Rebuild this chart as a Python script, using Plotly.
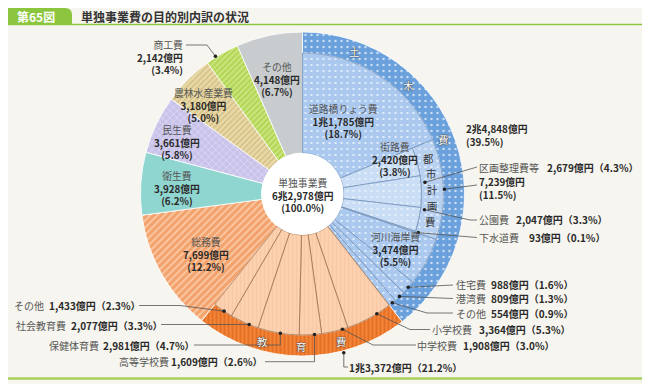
import math
import plotly.graph_objects as go

# ---------------- data ----------------
top_names = ["土木費", "教育費", "総務費", "衛生費", "民生費", "農林水産業費", "商工費", "その他"]
top_values = [24848, 13372, 7699, 3928, 3661, 3180, 2142, 4148]
top_amounts = ["2兆4,848億円", "1兆3,372億円", "7,699億円", "3,928億円", "3,661億円", "3,180億円", "2,142億円", "4,148億円"]
top_pcts = ["39.5%", "21.2%", "12.2%", "6.2%", "5.8%", "5.0%", "3.4%", "6.7%"]

doboku_names = ["道路橋りょう費", "都市計画費", "河川海岸費", "住宅費", "港湾費", "その他"]
doboku_values = [11785, 7239, 3474, 988, 809, 554]
doboku_amounts = ["1兆1,785億円", "7,239億円", "3,474億円", "988億円", "809億円", "554億円"]
doboku_pcts = ["18.7%", "11.5%", "5.5%", "1.6%", "1.3%", "0.9%"]

toshi_names = ["街路費", "区画整理費等", "公園費", "下水道費"]
toshi_values = [2420, 2679, 2047, 93]
toshi_amounts = ["2,420億円", "2,679億円", "2,047億円", "93億円"]
toshi_pcts = ["3.8%", "4.3%", "3.3%", "0.1%"]

kyoiku_names = ["小学校費", "中学校費", "高等学校費", "保健体育費", "社会教育費", "その他"]
kyoiku_values = [3364, 1908, 1609, 2981, 2077, 1433]
kyoiku_amounts = ["3,364億円", "1,908億円", "1,609億円", "2,981億円", "2,077億円", "1,433億円"]
kyoiku_pcts = ["5.3%", "3.0%", "2.6%", "4.7%", "3.3%", "2.3%"]

total_label = ["単独事業費", "6兆2,978億円", "(100.0%)"]
title_no = "第65図"
title_text = "単独事業費の目的別内訳の状況"

# ---------------- geometry ----------------
# the page is shown with the browser's default 8px body margin, so the
# figure is made 8px smaller and the overlay axes are offset by the same amount
OFF = 8
W, H = 650, 384
FW, FH = W - OFF, H - OFF
CX, CY = 302.5, 194.0           # screen position of the chart centre
RMAX = 168.0
R_OUT, R_RING, R_BAND, R_HOLE = 162.0, 141.0, 119.0, 41.0
FONT = "Noto Sans CJK JP, Noto Sans, sans-serif"
BG = "#f7f5ef"

TOTAL = sum(top_values)
DEG = 360.0 / TOTAL


def spans(values, start):
    out, a = [], start
    for v in values:
        w = v * DEG
        out.append((a, w))
        a += w
    return out


top_sp = spans(top_values, 0.0)
dob_sp = spans(doboku_values, top_sp[0][0])
toshi_sp = spans(toshi_values, dob_sp[1][0])
kyo_sp = spans(kyoiku_values, top_sp[1][0])


def px(angle, r):
    a = math.radians(angle)
    return CX + r * math.sin(a), CY - r * math.cos(a)


def anchor(sp, frac):
    return sp[0] + frac * sp[1]


fig = go.Figure()


def ring(sps, r0, r1, colors, line_color, line_w, patterns):
    for (s, w), c, p in zip(sps, colors, patterns):
        m = dict(color=c, line=dict(color=line_color, width=line_w))
        if p:
            pp = dict(p)
            pp.setdefault("bgcolor", c)
            pp["fillmode"] = "replace"
            m["pattern"] = pp
        fig.add_trace(go.Barpolar(theta=[s + w / 2], width=[w], base=[r0], r=[r1 - r0],
                                  marker=m, hoverinfo="skip", showlegend=False))


BLUE_P = dict(shape=".", fgcolor="#eef5fd", size=6, solidity=0.1)
gen_colors = ["#f4a26c", "#8fd5d0", "#c9c3ea", "#e9d9a7", "#c8e47a", "#c8ccce"]
gen_patterns = [dict(shape="/", fgcolor="#f9caa6", size=5, solidity=0.35),
                None,
                dict(shape="x", fgcolor="#dcd8f4", size=5, solidity=0.3),
                dict(shape="/", fgcolor="#cfbb80", size=4, solidity=0.3),
                dict(shape="/", fgcolor="#abd049", size=4, solidity=0.35),
                None]
ring(top_sp[2:], R_HOLE, R_OUT, gen_colors, "#ffffff", 0.8, gen_patterns)

ring([top_sp[0]], R_RING, R_OUT, ["#6aa0db"], "#ffffff", 0.8,
     [dict(shape=".", fgcolor="#cfe1f6", size=6, solidity=0.12)])
ring([top_sp[1]], R_RING, R_OUT, ["#f2873a"], "#ffffff", 0.8,
     [dict(shape="|", fgcolor="#e0651b", size=4, solidity=0.35)])

dob_full = [i for i in range(len(doboku_values)) if i != 1]
ring([dob_sp[i] for i in dob_full], R_HOLE, R_RING,
     ["#abc9ef"] * len(dob_full), "#6d8db6", 0.7, [BLUE_P] * len(dob_full))
ring([dob_sp[1]], R_BAND, R_RING, ["#b9d1f1"], "#6d8db6", 0.7, [BLUE_P])
ring(toshi_sp, R_HOLE, R_BAND, ["#c9ddf5"] * len(toshi_sp), "#6d8db6", 0.7, [BLUE_P] * len(toshi_sp))
ring(kyo_sp, R_HOLE, R_RING, ["#fcd4b3"] * len(kyo_sp), "#9a6a48", 0.7,
     [dict(shape="|", fgcolor="#f8c29b", size=4, solidity=0.3)] * len(kyo_sp))

shapes = []
shapes.append(dict(type="rect", xref="x", yref="y", x0=0, x1=W, y0=0, y1=H,
                   fillcolor=BG, line=dict(width=0), layer="below"))
shapes.append(dict(type="path", xref="x", yref="y", path="M0,8 H65 Q72,8 72,15 V24.5 H0 Z",
                   fillcolor="#8cc63f", line=dict(width=0)))
shapes.append(dict(type="line", xref="x", yref="y", x0=0, x1=W, y0=24.5, y1=24.5,
                   line=dict(color="#8cc63f", width=1.5)))
shapes.append(dict(type="line", xref="x", yref="y", x0=0, x1=W, y0=378.5, y1=378.5,
                   line=dict(color="#a6d05a", width=2.5)))
shapes.append(dict(type="circle", xref="x", yref="y", x0=CX - R_HOLE, x1=CX + R_HOLE,
                   y0=CY - R_HOLE, y1=CY + R_HOLE, fillcolor="#ffffff", line=dict(width=0)))

leaders = [
    (anchor(top_sp[6], 0.3), R_OUT + 1, [(207, 45), (186, 45)]),
    (anchor(toshi_sp[1], 0.22), R_BAND + 4, [(477, 167)]),
    (anchor(dob_sp[1], 0.5), R_RING + 1, [(477, 185)]),
    (anchor(toshi_sp[2], 0.07), R_BAND + 4, [(470, 220), (477, 220)]),
    (anchor(toshi_sp[3], 0.5), R_BAND + 3, [(477, 237.5)]),
    (anchor(dob_sp[3], 0.5), R_RING, [(453, 285)]),
    (anchor(dob_sp[4], 0.5), R_RING, [(453, 298.5)]),
    (anchor(dob_sp[5], 0.5), R_RING, [(427, 313), (453, 313)]),
    (anchor(kyo_sp[0], 0.32), R_RING, [(410, 329.5), (430, 329.5)]),
    (anchor(kyo_sp[1], 0.21), R_RING, [(373, 345), (416, 345)]),
    (anchor(top_sp[1], 0.306), R_OUT + 2, [(None, 367), (348, 367)]),
    (anchor(kyo_sp[2], 0.32), R_RING, [(None, 361.7), (265, 361.7)]),
    (anchor(kyo_sp[3], 0.45), R_RING, [(None, 345), (194, 345)]),
    (anchor(kyo_sp[4], 0.32), R_RING, [(161, None)]),
    (anchor(kyo_sp[5], 0.43), R_RING, [(180, 305.5), (139, 305.5)]),
]
for ang, r, pts in leaders:
    dx, dy = px(ang, r)
    path = f"M{dx:.1f},{dy:.1f}"
    for x, y in pts:
        x = dx if x is None else x
        y = dy if y is None else y
        path += f" L{x:.1f},{y:.1f}"
    shapes.append(dict(type="path", xref="x", yref="y", path=path,
                       line=dict(color="#555555", width=0.8)))
    shapes.append(dict(type="circle", xref="x", yref="y", x0=dx - 1.8, x1=dx + 1.8,
                       y0=dy - 1.8, y1=dy + 1.8, fillcolor="#222222", line=dict(width=0)))

anns = []
NAME_C = "#555555"
VAL_C = "#2a2a2a"


def ann(x, y, text, size=10.0, color="#333333", xanchor="center", align="center", shadow=None):
    f = dict(family=FONT, size=size, color=color)
    if shadow:
        f["shadow"] = shadow
    anns.append(dict(x=x, y=y, xref="x", yref="y", text=text, showarrow=False,
                     xanchor=xanchor, yanchor="middle", align=align, font=f,
                     borderpad=0, borderwidth=0))


def label3(x, ymid, name, amount, pct, xanchor="center", size=9.8):
    t = f"<span style='color:{NAME_C}'>{name}</span><br><b>{amount}</b><br><b>({pct})</b>"
    ann(x, ymid, t, size=size, color=VAL_C, xanchor=xanchor,
        align="right" if xanchor == "right" else ("left" if xanchor == "left" else "center"))


def label2(x, ymid, amount, pct):
    ann(x, ymid, f"<b>{amount}</b><br><b>({pct})</b>", size=9.8, color=VAL_C,
        xanchor="left", align="left")


def label1(xn, xv, y, name, amount, pct):
    if name:
        ann(xn, y, name, color=NAME_C, xanchor="left")
    ann(xv, y, f"<b>{amount}（{pct}）</b>", color=VAL_C, xanchor="left")


# title
ann(36, 16.8, f"<b>{title_no}</b>", size=12, color="#ffffff")
ann(81, 16.8, f"<b>{title_text}</b>", size=12, color="#333333", xanchor="left")

# centre
ann(CX, 195.5, f"<span style='color:{NAME_C}'>{total_label[0]}</span><br><b>{total_label[1]}</b><br><b>{total_label[2]}</b>",
    size=9.8, color=VAL_C)

# general wedges
label3(206, 254, top_names[2], top_amounts[2], top_pcts[2])
label3(177, 188.5, top_names[3], top_amounts[3], top_pcts[3])
label3(177, 142, top_names[4], top_amounts[4], top_pcts[4])
label3(203, 105.5, top_names[5], top_amounts[5], top_pcts[5])
label3(183, 57, top_names[6], top_amounts[6], top_pcts[6], xanchor="right")
label3(277, 79.5, top_names[7], top_amounts[7], top_pcts[7])

# 土木費
label2(466, 135, top_amounts[0], top_pcts[0])
label3(343, 121.5, doboku_names[0], doboku_amounts[0], doboku_pcts[0])
label2(479, 188.5, doboku_amounts[1], doboku_pcts[1])
label3(395, 159.5, toshi_names[0], toshi_amounts[0], toshi_pcts[0])
label3(395, 249, doboku_names[2], doboku_amounts[2], doboku_pcts[2])
label1(479, 547, 167, toshi_names[1], toshi_amounts[1], toshi_pcts[1])
label1(479, 516, 219.5, toshi_names[2], toshi_amounts[2], toshi_pcts[2])
label1(479, 529, 237.5, toshi_names[3], toshi_amounts[3], toshi_pcts[3])
label1(456, 491, 284.5, doboku_names[3], doboku_amounts[3], doboku_pcts[3])
label1(456, 491, 298.5, doboku_names[4], doboku_amounts[4], doboku_pcts[4])
label1(456, 491, 313, doboku_names[5], doboku_amounts[5], doboku_pcts[5])

# 教育費
label1(432, 479, 329.5, kyoiku_names[0], kyoiku_amounts[0], kyoiku_pcts[0])
label1(417, 463, 345, kyoiku_names[1], kyoiku_amounts[1], kyoiku_pcts[1])
label1(None, 349, 367, None, top_amounts[1], top_pcts[1])
label1(119, 171, 361.7, kyoiku_names[2], kyoiku_amounts[2], kyoiku_pcts[2])
label1(49, 103, 345, kyoiku_names[3], kyoiku_amounts[3], kyoiku_pcts[3])
label1(16, 71, 325, kyoiku_names[4], kyoiku_amounts[4], kyoiku_pcts[4])
label1(14, 49, 305.5, kyoiku_names[5], kyoiku_amounts[5], kyoiku_pcts[5])

# ring captions
SHADOW = "0px 0px 1.5px #1f1f1f, 0px 0px 1px #1f1f1f"
for ch, off in zip(top_names[0], [20.0, 44.5, 69.0]):
    x, y = px(top_sp[0][0] + off, (R_RING + R_OUT) / 2)
    ann(x, y, ch, size=10.5, color="#ffffff", shadow=SHADOW)
kmid = top_sp[1][0] + top_sp[1][1] / 2
for ch, k in zip("教育費", [1, 0, -1]):
    x, y = px(kmid + 15 * k, (R_RING + R_OUT) / 2 + 1)
    ann(x, y, ch, size=10.5, color="#ffffff", shadow=SHADOW)
tmid = dob_sp[1][0] + dob_sp[1][1] / 2
for ch, k in zip(doboku_names[1], [-2, -1, 0, 1, 2]):
    x, y = px(tmid + 7 * k, (R_BAND + R_RING) / 2)
    ann(x, y, ch, size=10.3, color="#333333")

fcx, fcy = CX - OFF, CY - OFF   # centre in figure pixels
fig.update_layout(
    width=FW, height=FH, margin=dict(l=0, r=0, t=0, b=0),
    paper_bgcolor=BG, plot_bgcolor="rgba(0,0,0,0)",
    showlegend=False,
    polar=dict(
        domain=dict(x=[(fcx - RMAX) / FW, (fcx + RMAX) / FW],
                    y=[(FH - fcy - RMAX) / FH, (FH - fcy + RMAX) / FH]),
        bgcolor="rgba(0,0,0,0)",
        radialaxis=dict(range=[0, RMAX], visible=False),
        angularaxis=dict(rotation=90, direction="clockwise", visible=False),
    ),
    xaxis=dict(range=[OFF, OFF + FW], visible=False, fixedrange=True, domain=[0, 1]),
    yaxis=dict(range=[OFF + FH, OFF], visible=False, fixedrange=True, domain=[0, 1]),
    shapes=shapes,
    annotations=anns,
)
fig.add_trace(go.Scatter(x=[None], y=[None], xaxis="x", yaxis="y", showlegend=False, hoverinfo="skip"))

fig.write_html("out.html")
